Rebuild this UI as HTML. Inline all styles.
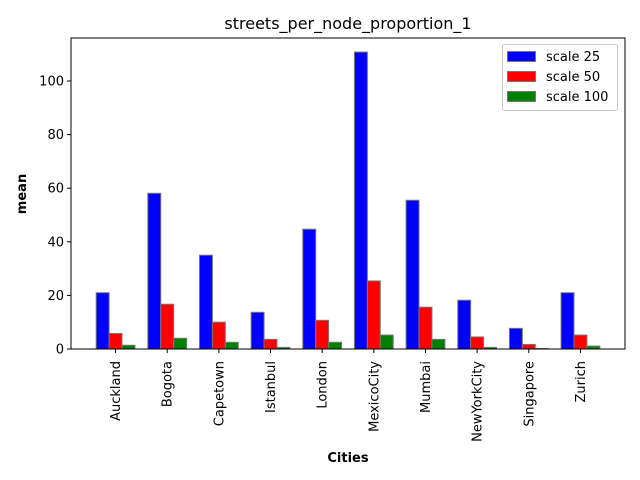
<!DOCTYPE html>
<html><head><meta charset="utf-8"><style>
body{margin:0;background:#fff;}
svg{display:block;font-family:"DejaVu Sans","Liberation Sans",sans-serif;}
</style></head><body>
<svg id="chart" width="640" height="480">
<text x="348" y="29" text-anchor="middle" font-size="16">streets_per_node_proportion_1</text>
<text x="348" y="462" text-anchor="middle" font-size="13" font-weight="bold">Cities</text>
<text transform="translate(26,194) rotate(-90)" text-anchor="middle" font-size="13" font-weight="bold">mean</text>
<g id="bars"></g>
<g id="xticks"></g>
<g id="yticks"></g>
<rect x="71" y="38" width="554" height="311" fill="none" stroke="#000" stroke-width="1"/>
<g>
<rect x="502.5" y="44.5" width="115" height="66" rx="2" fill="#fff" stroke="#ccc"/>
<g><rect x="507.5" y="51.5" width="28" height="10" fill="#0000ff" stroke="#777"/><text x="546" y="61" font-size="13">scale 25</text></g>
<g><rect x="507.5" y="71.5" width="28" height="10" fill="#ff0000" stroke="#777"/><text x="546" y="81" font-size="13">scale 50</text></g>
<g><rect x="507.5" y="91.5" width="28" height="10" fill="#008000" stroke="#777"/><text x="546" y="101" font-size="13">scale 100</text></g>
</g>
</svg>
<script>
const categories=["Auckland","Bogota","Capetown","Istanbul","London","MexicoCity","Mumbai","NewYorkCity","Singapore","Zurich"];
const scale25=[21.0,58.1,35.0,13.7,44.7,110.8,55.5,18.2,7.7,21.0];
const scale50=[5.8,16.7,10.0,3.6,10.7,25.4,15.6,4.5,1.7,5.2];
const scale100=[1.4,4.0,2.5,0.6,2.5,5.2,3.6,0.6,0.2,1.1];
const yTicks=[0,20,40,60,80,100];
const NS="http://www.w3.org/2000/svg";
const L=71,R=625,T=38,B=349;
const xmin=-0.6125,xmax=10.1125;
function xs(v){return L+(v-xmin)/(xmax-xmin)*(R-L);}
function ys(v){return B-v*2.68;}
const series=[[scale25,"#0000ff","scale-25"],[scale50,"#ff0000","scale-50"],[scale100,"#008000","scale-100"]];
const gb=document.getElementById('bars');
series.forEach((s,j)=>{
  s[0].forEach((v,i)=>{
    const c=i+j*0.25;
    const r=document.createElementNS(NS,'rect');
    const x0=xs(c-0.125),x1=xs(c+0.125);
    r.setAttribute('x',x0);r.setAttribute('width',x1-x0);
    r.setAttribute('y',ys(v));r.setAttribute('height',B-ys(v));
    r.setAttribute('fill',s[1]);r.setAttribute('stroke','#777');r.setAttribute('stroke-width','1');
    
    
    gb.appendChild(r);
  });
});
const gx=document.getElementById('xticks');
categories.forEach((c,i)=>{
  const x=xs(i+0.25);
  const l=document.createElementNS(NS,'line');
  l.setAttribute('x1',x);l.setAttribute('x2',x);l.setAttribute('y1',B);l.setAttribute('y2',B+4);l.setAttribute('stroke','#000');
  
  
  gx.appendChild(l);
  const t=document.createElementNS(NS,'text');
  t.setAttribute('transform','translate('+(x+4.5)+','+(B+12)+') rotate(-90)');
  t.setAttribute('text-anchor','end');t.setAttribute('font-size','13');
  t.textContent=c;
  
  
  gx.appendChild(t);
});
const gy=document.getElementById('yticks');
yTicks.forEach(v=>{
  const y=ys(v);
  const l=document.createElementNS(NS,'line');
  l.setAttribute('x1',L-4);l.setAttribute('x2',L);l.setAttribute('y1',y);l.setAttribute('y2',y);l.setAttribute('stroke','#000');
  
  
  gy.appendChild(l);
  const t=document.createElementNS(NS,'text');
  t.setAttribute('x',L-7);t.setAttribute('y',y+4.5);t.setAttribute('text-anchor','end');t.setAttribute('font-size','13');
  t.textContent=v;
  
  
  gy.appendChild(t);
});
</script>
</body></html>
